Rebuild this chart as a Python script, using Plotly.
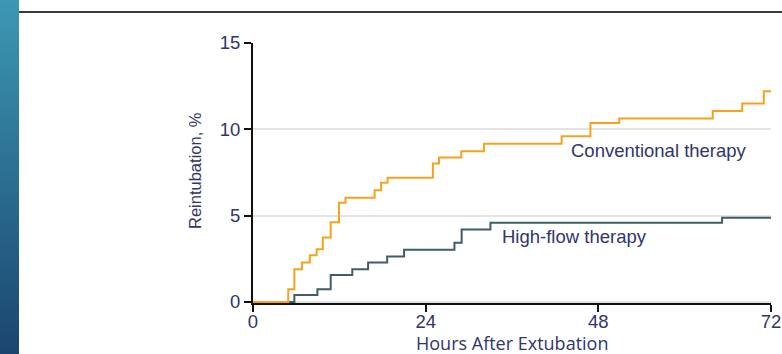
import base64
import plotly.graph_objects as go

# Cumulative reintubation (%) by hours after extubation, stepwise
conv_hours = [0, 4.9, 5.75, 6.8, 7.9, 8.85, 9.7, 10.8, 11.95, 12.85, 16.9, 17.8,
              18.7, 25.0, 25.85, 28.95, 32.1, 42.9, 46.9, 50.9, 63.9, 68.0, 71.0, 72]
conv_pct = [0, 0.73, 1.89, 2.28, 2.70, 3.05, 3.74, 4.62, 5.74, 6.03, 6.47, 6.90,
            7.19, 8.02, 8.37, 8.73, 9.17, 9.60, 10.37, 10.62, 11.06, 11.50, 12.20, 12.20]

hf_hours = [0, 5.75, 8.95, 10.8, 13.8, 16.0, 18.65, 21.0, 28.0, 29.0, 33.0, 65.2, 72]
hf_pct = [0, 0.40, 0.73, 1.56, 1.89, 2.28, 2.64, 3.03, 3.43, 4.20, 4.59, 4.88, 4.88]

x_ticks = [0, 24, 48, 72]
y_ticks = [0, 5, 10, 15]

W, H = 782, 354
L, R, T, B = 253, 11, 43, 51
PW, PH = W - L - R, H - T - B

TEXT = "#30356a"
FONT = "Liberation Sans"
FS = 18.5


def px_x(p):
    return (p - L) / PW


def px_y(p):
    return (H - B - p) / PH


fig = go.Figure()

# high-flow first so the conventional line sits on top where they overlap
fig.add_trace(go.Scatter(
    x=hf_hours, y=hf_pct, mode="lines", line_shape="hv",
    line=dict(color="#3f5c67", width=2), hoverinfo="skip", showlegend=False))
fig.add_trace(go.Scatter(
    x=conv_hours, y=conv_pct, mode="lines", line_shape="hv",
    line=dict(color="#f7a21e", width=2), hoverinfo="skip", showlegend=False))

# smooth vertical gradient band on the left edge
svg = ('<svg xmlns="http://www.w3.org/2000/svg" width="19" height="354" '
       'preserveAspectRatio="none"><defs><linearGradient id="g" x1="0" y1="0" '
       'x2="0" y2="1"><stop offset="0" stop-color="#3c98b4"/>'
       '<stop offset="1" stop-color="#1b456f"/></linearGradient></defs>'
       '<rect width="19" height="354" fill="url(#g)"/></svg>')
src = "data:image/svg+xml;base64," + base64.b64encode(svg.encode()).decode()
images = [dict(source=src, xref="paper", yref="paper",
               x=px_x(0), y=px_y(0), sizex=px_x(19) - px_x(0),
               sizey=px_y(0) - px_y(H), xanchor="left", yanchor="top",
               sizing="stretch", layer="below")]

shapes = [dict(type="line", xref="paper", yref="paper",
               x0=px_x(19), x1=px_x(782), y0=px_y(12), y1=px_y(12),
               line=dict(color="#3a3a3a", width=2))]

annotations = [
    dict(x=56.5, y=8.77, xref="x", yref="y", text="Conventional therapy",
         showarrow=False, xanchor="center", yanchor="middle",
         font=dict(family=FONT, size=FS, color=TEXT)),
    dict(x=44.7, y=3.82, xref="x", yref="y", text="High-flow therapy",
         showarrow=False, xanchor="center", yanchor="middle",
         font=dict(family=FONT, size=FS, color=TEXT)),
    dict(x=0.5, y=0, xref="paper", yref="paper", text="Hours After Extubation",
         showarrow=False, xanchor="center", yanchor="middle", yshift=-40,
         font=dict(family="Open Sans", size=18, color=TEXT)),
    dict(x=0, y=0.5, xref="paper", yref="paper", text="Reintubation, %",
         showarrow=False, xanchor="center", yanchor="middle", xshift=-58,
         yshift=2, textangle=-90, font=dict(family=FONT, size=16.5, color=TEXT)),
]

fig.update_layout(
    width=W, height=H,
    margin=dict(l=L, r=R, t=T, b=B, autoexpand=False),
    paper_bgcolor="white", plot_bgcolor="white",
    shapes=shapes, annotations=annotations, images=images,
    xaxis=dict(range=[0, 72], tickvals=x_ticks, ticktext=[str(v) for v in x_ticks],
               showgrid=False, zeroline=False, showline=True, linecolor="#111",
               linewidth=2, ticks="outside", ticklen=7, tickwidth=2, tickcolor="#111",
               ticklabelstandoff=-6,
               tickfont=dict(family=FONT, size=FS, color=TEXT), layer="below traces",
               fixedrange=True),
    yaxis=dict(range=[-0.06, 15], tickvals=y_ticks, ticktext=[str(v) for v in y_ticks],
               showgrid=True, gridcolor="#e4e4e4", gridwidth=1.5, zeroline=False,
               showline=True, linecolor="#111", linewidth=2, ticks="outside",
               ticklen=7, tickwidth=2, tickcolor="#111",
               tickfont=dict(family=FONT, size=FS, color=TEXT), layer="below traces",
               fixedrange=True),
)

fig.write_html("out.html", config={"displayModeBar": False})
